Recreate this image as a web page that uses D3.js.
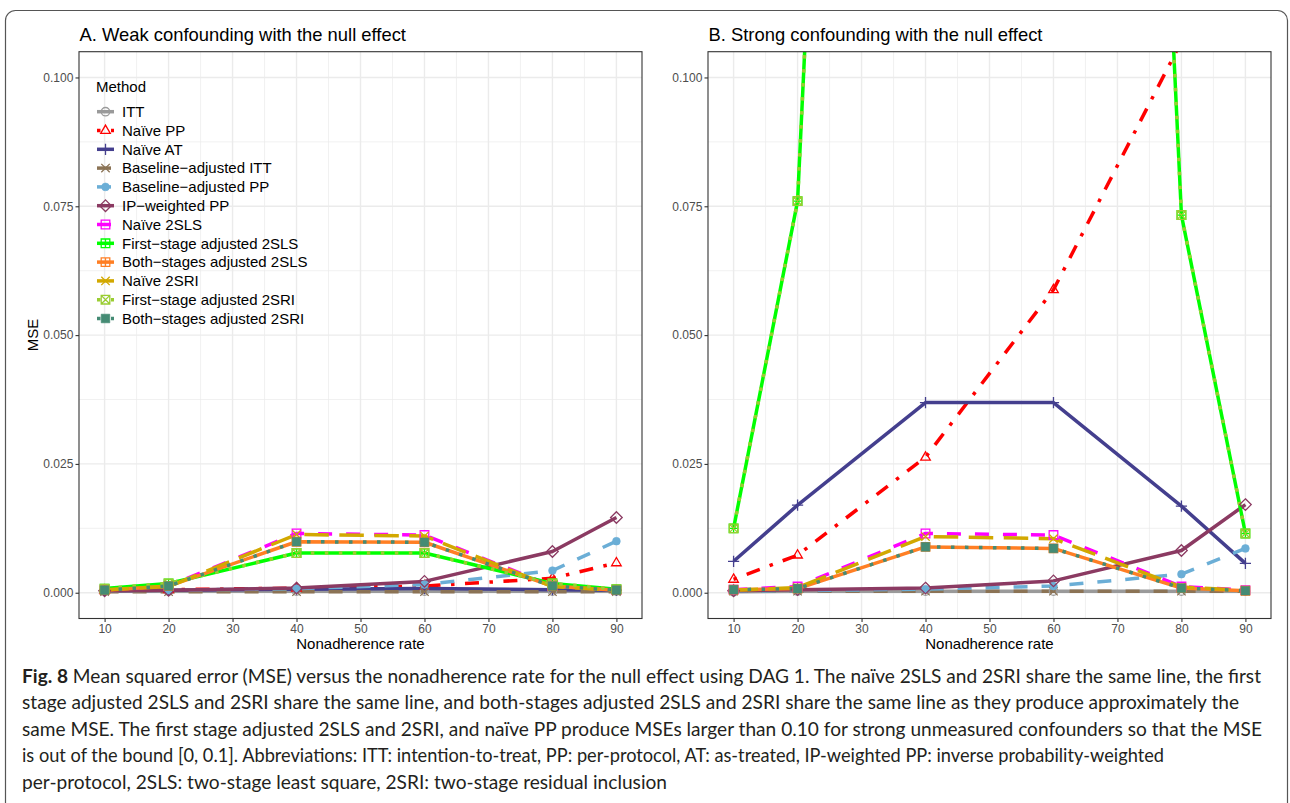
<!DOCTYPE html>
<html>
<head>
<meta charset="utf-8">
<script src="https://cdn.jsdelivr.net/npm/d3@7"></script>
<style>
  body { margin: 0; background: #fff; }
  svg { display: block; }
</style>
</head>
<body>
<svg id="fig" width="1290" height="803"></svg>
<script>
// ---- data -------------------------------------------------------------
const rates = [10, 20, 40, 60, 80, 90];
const xTicks = [10, 20, 30, 40, 50, 60, 70, 80, 90];
const yTicks = [0, 0.025, 0.05, 0.075, 0.1];

const methods = [
  "ITT", "Naïve PP", "Naïve AT", "Baseline−adjusted ITT", "Baseline−adjusted PP",
  "IP−weighted PP", "Naïve 2SLS", "First−stage adjusted 2SLS", "Both−stages adjusted 2SLS",
  "Naïve 2SRI", "First−stage adjusted 2SRI", "Both−stages adjusted 2SRI"
];

// MSE by method (rows, same order as methods) and nonadherence rate (columns)
const weakMSE = [
  [0.0003, 0.0003, 0.0003, 0.0003, 0.0003, 0.0003],
  [0.0005, 0.0006, 0.0009, 0.0013, 0.0028, 0.0058],
  [0.0004, 0.0005, 0.0007, 0.0008, 0.0006, 0.0005],
  [0.0002, 0.0002, 0.0002, 0.0002, 0.0002, 0.0002],
  [0.0004, 0.0005, 0.0008, 0.0016, 0.0043, 0.0100],
  [0.0004, 0.0005, 0.0009, 0.0022, 0.0080, 0.0146],
  [0.0006, 0.0013, 0.0115, 0.0112, 0.0013, 0.0005],
  [0.0008, 0.0018, 0.0077, 0.0077, 0.0018, 0.0007],
  [0.0005, 0.0013, 0.0099, 0.0098, 0.0013, 0.0005],
  [0.0006, 0.0012, 0.0113, 0.0110, 0.0012, 0.0005],
  [0.0008, 0.0018, 0.0077, 0.0077, 0.0018, 0.0007],
  [0.0005, 0.0013, 0.0099, 0.0098, 0.0013, 0.0005]
];

const strongMSE = [
  [0.0002, 0.0003, 0.0003, 0.0003, 0.0003, 0.0003],
  [0.0026, 0.0073, 0.0263, 0.0588, 0.1070, 0.1700],
  [0.0061, 0.0170, 0.0369, 0.0369, 0.0168, 0.0057],
  [0.0003, 0.0003, 0.0003, 0.0003, 0.0003, 0.0003],
  [0.0003, 0.0004, 0.0007, 0.0013, 0.0036, 0.0086],
  [0.0004, 0.0006, 0.0009, 0.0023, 0.0082, 0.0171],
  [0.0006, 0.0012, 0.0115, 0.0112, 0.0012, 0.0005],
  [0.0125, 0.0760, 0.6000, 0.6000, 0.0733, 0.0115],
  [0.0006, 0.0008, 0.0089, 0.0086, 0.0009, 0.0004],
  [0.0005, 0.0010, 0.0109, 0.0105, 0.0011, 0.0005],
  [0.0125, 0.0760, 0.6000, 0.6000, 0.0733, 0.0115],
  [0.0006, 0.0008, 0.0089, 0.0086, 0.0009, 0.0004]
];

const panelTitles = [
  "A. Weak confounding with the null effect",
  "B. Strong confounding with the null effect"
];

const captionLines = [
  " Mean squared error (MSE) versus the nonadherence rate for the null effect using DAG 1. The naïve 2SLS and 2SRI share the same line, the first",
  "stage adjusted 2SLS and 2SRI share the same line, and both-stages adjusted 2SLS and 2SRI share the same line as they produce approximately the",
  "same MSE. The first stage adjusted 2SLS and 2SRI, and naïve PP produce MSEs larger than 0.10 for strong unmeasured confounders so that the MSE",
  "is out of the bound [0, 0.1]. Abbreviations: ITT: intention-to-treat, PP: per-protocol, AT: as-treated, IP-weighted PP: inverse probability-weighted",
  "per-protocol, 2SLS: two-stage least square, 2SRI: two-stage residual inclusion"
];

// ---- styles -----------------------------------------------------------
const colors = ["#9a9a9a", "#ff0000", "#443f8e", "#8b7355", "#6baed6", "#8b3a62",
                "#ff00ff", "#00ff00", "#ff7f24", "#d2a800", "#9acd32", "#458b74"];
const lw = 3.5;
const dashSolid = null, dashDashed = `${4*lw},${4*lw}`, dashLong = `${7*lw},${3*lw}`,
      dashDotDash = `${1*lw},${3*lw},${4*lw},${3*lw}`, dashDotted = `${1*lw},${3*lw}`;
const dashes = [dashSolid, dashDotDash, dashSolid, dashDashed, dashDashed, dashSolid,
                dashDashed, dashSolid, dashSolid, dashLong, dashDotted, dashDotted];
const shapes = ["circleOpen", "triangleOpen", "plus", "cross", "circleFilled", "diamondOpen",
                "squareOpen", "squarePlus", "squarePlus", "cross", "squareCross", "squareFilled"];

function shapePath(s) {
  const q = 4.3;
  const sq = `M${-q},${-q}H${q}V${q}H${-q}Z`;
  switch (s) {
    case "circleOpen":
    case "circleFilled": {
      const r = s === "circleOpen" ? 4.2 : 3.9;
      return `M${r},0A${r},${r} 0 1,1 ${-r},0A${r},${r} 0 1,1 ${r},0Z`;
    }
    case "triangleOpen": return "M0,-5.4L4.8,2.9L-4.8,2.9Z";
    case "plus": return "M-5.6,0H5.6M0,-5.6V5.6";
    case "cross": return "M-4.2,-4.2L4.2,4.2M-4.2,4.2L4.2,-4.2";
    case "diamondOpen": return "M0,-5.8L5.8,0L0,5.8L-5.8,0Z";
    case "squareOpen": return sq;
    case "squareFilled": return sq;
    case "squarePlus": return sq + `M${-q},0H${q}M0,${-q}V${q}`;
    case "squareCross": return sq + `M${-q},${-q}L${q},${q}M${-q},${q}L${q},${-q}`;
  }
}
function drawMarker(sel, i) {
  const filled = shapes[i] === "circleFilled" || shapes[i] === "squareFilled";
  sel.append("path")
    .attr("d", shapePath(shapes[i]))
    .attr("fill", filled ? colors[i] : "none")
    .attr("stroke", colors[i])
    .attr("stroke-width", filled ? 0.6 : 1.3);
}

// ---- layout -----------------------------------------------------------
const svg = d3.select("#fig");
const FONT = "'Liberation Sans', Arial, Helvetica, sans-serif";
const plotTop = 51.7, plotBottom = 618.5;

// figure frame
svg.append("rect")
  .attr("x", 5.5).attr("y", 10.5).attr("width", 1282).attr("height", 900)
  .attr("rx", 10).attr("fill", "none").attr("stroke", "#555").attr("stroke-width", 1.2);

const panels = [
  { left: 79, right: 642, data: weakMSE, title: panelTitles[0], legend: true, ytitle: true },
  { left: 708, right: 1271, data: strongMSE, title: panelTitles[1], legend: false, ytitle: false }
];

const mid = arr => arr.slice(1).map((v, i) => (v + arr[i]) / 2);

panels.forEach((p, pi) => {
  const x = d3.scaleLinear().domain([6, 94]).range([p.left, p.right]);
  const y = d3.scaleLinear().domain([-0.005, 0.105]).range([plotBottom, plotTop]);
  const clipId = "panel-clip-" + pi;
  svg.append("clipPath").attr("id", clipId)
    .append("rect").attr("x", p.left).attr("y", plotTop)
    .attr("width", p.right - p.left).attr("height", plotBottom - plotTop);

  const g = svg.append("g");
  const grid = g.append("g");
  // minor grid
  grid.selectAll(".mx").data(mid(xTicks)).join("line")
    .attr("x1", d => x(d)).attr("x2", d => x(d)).attr("y1", plotTop).attr("y2", plotBottom)
    .attr("stroke", "#ebebeb").attr("stroke-width", 0.7);
  grid.selectAll(".my").data(mid(yTicks)).join("line")
    .attr("y1", d => y(d)).attr("y2", d => y(d)).attr("x1", p.left).attr("x2", p.right)
    .attr("stroke", "#ebebeb").attr("stroke-width", 0.7);
  // major grid
  grid.selectAll(".Mx").data(xTicks).join("line")
    .attr("x1", d => x(d)).attr("x2", d => x(d)).attr("y1", plotTop).attr("y2", plotBottom)
    .attr("stroke", "#ebebeb").attr("stroke-width", 1.4);
  grid.selectAll(".My").data(yTicks).join("line")
    .attr("y1", d => y(d)).attr("y2", d => y(d)).attr("x1", p.left).attr("x2", p.right)
    .attr("stroke", "#ebebeb").attr("stroke-width", 1.4);

  const plot = g.append("g").attr("clip-path", `url(#${clipId})`);
  const line = d3.line().x((d, i) => x(rates[i])).y(d => y(d));
  p.data.forEach((vals, i) => {
    plot.append("path")
      .attr("d", line(vals))
      .attr("fill", "none")
      .attr("stroke", colors[i])
      .attr("stroke-width", lw)
      .attr("stroke-dasharray", dashes[i])
      .attr("stroke-linejoin", "round");
  });
  p.data.forEach((vals, i) => {
    vals.forEach((v, j) => {
      const m = plot.append("g").attr("transform", `translate(${x(rates[j])},${y(v)})`);
      drawMarker(m, i);
    });
  });

  // border
  g.append("rect").attr("x", p.left).attr("y", plotTop)
    .attr("width", p.right - p.left).attr("height", plotBottom - plotTop)
    .attr("fill", "none").attr("stroke", "#333").attr("stroke-width", 1.1);

  // axes
  const ax = svg.append("g").attr("transform", `translate(0,${plotBottom})`)
    .call(d3.axisBottom(x).tickValues(xTicks).tickSize(3.5).tickPadding(2.5).tickSizeOuter(0));
  const ay = svg.append("g").attr("transform", `translate(${p.left},0)`)
    .call(d3.axisLeft(y).tickValues(yTicks).tickFormat(d3.format(".3f")).tickSize(3.5).tickPadding(2.2).tickSizeOuter(0));
  [ax, ay].forEach(a => {
    a.select(".domain").remove();
    a.selectAll(".tick line").attr("stroke", "#333").attr("stroke-width", 1.1);
    a.selectAll(".tick text").attr("fill", "#4d4d4d").style("font-family", FONT).style("font-size", "12px");
  });

  svg.append("text")
    .attr("x", (p.left + p.right) / 2).attr("y", 649)
    .attr("text-anchor", "middle").style("font-family", FONT).style("font-size", "15px")
    .text("Nonadherence rate");

  svg.append("text")
    .attr("x", p.left + 0.5).attr("y", 40.5)
    .style("font-family", FONT).style("font-size", "18.4px")
    .text(p.title);

  if (p.ytitle) {
    svg.append("text")
      .attr("transform", `translate(37.5,${(plotTop + plotBottom) / 2}) rotate(-90)`)
      .attr("text-anchor", "middle").style("font-family", FONT).style("font-size", "15px")
      .text("MSE");
  }

  if (p.legend) {
    const lg = svg.append("g");
    lg.append("text").attr("x", 96).attr("y", 92)
      .style("font-family", FONT).style("font-size", "15px").text("Method");
    methods.forEach((name, i) => {
      const cy = 111.7 + i * 18.8;
      lg.append("line").attr("x1", 97).attr("x2", 114).attr("y1", cy).attr("y2", cy)
        .attr("stroke", colors[i]).attr("stroke-width", lw).attr("stroke-dasharray", dashes[i]);
      const m = lg.append("g").attr("transform", `translate(105.5,${cy})`);
      drawMarker(m, i);
      lg.append("text").attr("x", 122).attr("y", cy + 5.3)
        .style("font-family", FONT).style("font-size", "15px").text(name);
    });
  }
});

// ---- caption ----------------------------------------------------------
const CAP_FONT = "Lato, 'Open Sans', 'Noto Sans', sans-serif";
const capEnds = [1261, 1239, 1262, 1164, 667];
captionLines.forEach((txt, i) => {
  const t = svg.append("text")
    .attr("x", 22).attr("y", 682.5 + i * 26.5)
    .attr("textLength", capEnds[i] - 22).attr("lengthAdjust", "spacingAndGlyphs")
    .style("font-family", CAP_FONT).style("font-size", "19px").attr("fill", "#231f20");
  if (i === 0) {
    t.append("tspan").style("font-weight", "bold").text("Fig. 8");
  }
  t.append("tspan").text(txt);
});
</script>
</body>
</html>
